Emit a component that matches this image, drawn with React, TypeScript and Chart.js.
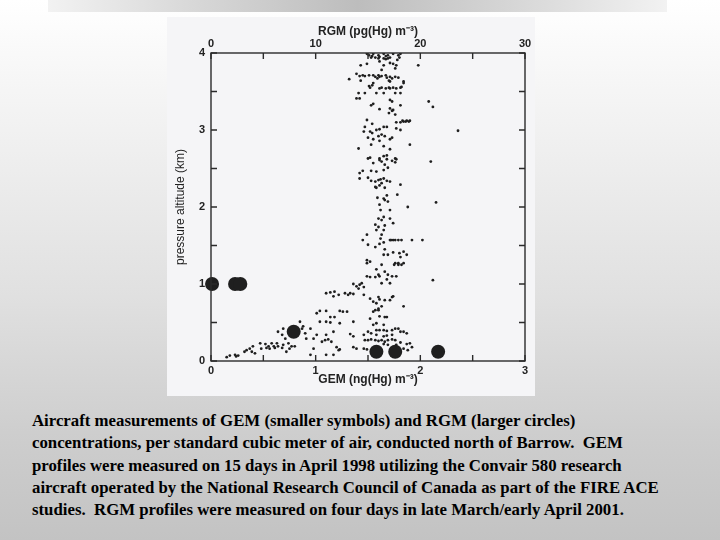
import React, { useEffect, useRef } from "react";
import { Chart, registerables } from "chart.js";
Chart.register(...registerables);

// GEM (ng(Hg) m^-3) vs pressure altitude (km), small symbols
const gemUpperColumn: [number, number][] = [
  [1.49,3.99],[1.51,3.97],[1.54,3.96],[1.55,3.99],[1.57,3.94],[1.60,3.97],[1.61,3.95],[1.65,3.99],[1.67,3.96],[1.69,3.97],[1.71,3.94],[1.74,3.99],[1.79,3.97],[1.80,3.94],[1.67,3.92],[1.69,3.93],[1.65,3.93],[1.60,3.93],[1.53,3.94],[1.78,3.91],[1.81,3.99],[1.98,3.84],
  [1.43,3.84],[1.49,3.86],[1.65,3.84],[1.71,3.87],[1.74,3.86],[1.77,3.84],[1.61,3.89],[1.63,3.78],[1.76,3.80],
  [1.39,3.73],[1.42,3.70],[1.45,3.71],[1.47,3.70],[1.51,3.71],[1.55,3.71],[1.57,3.69],[1.60,3.71],[1.61,3.69],[1.63,3.70],[1.67,3.71],[1.68,3.68],[1.71,3.69],[1.73,3.67],[1.76,3.69],[1.79,3.68],[1.32,3.66],[1.43,3.64],[1.70,3.64],[1.71,3.63],[1.84,3.63],[1.59,3.67],
  [1.51,3.57],[1.52,3.55],[1.54,3.58],[1.55,3.61],[1.61,3.54],[1.63,3.55],[1.67,3.54],[1.70,3.55],[1.71,3.54],[1.74,3.55],[1.77,3.54],[1.81,3.55],[1.82,3.56],[1.84,3.61],
  [1.41,3.48],[1.47,3.48],[1.58,3.48],[1.65,3.48],[1.76,3.48],[1.81,3.48],[1.42,3.41],[1.39,3.41],
  [1.71,3.39],[1.73,3.37],[1.55,3.34],[1.53,3.32],[1.81,3.32],[1.71,3.28],[1.73,3.25],[1.70,3.22],[1.74,3.26],[1.76,3.20],[1.61,3.27],[1.49,3.13],[1.54,3.08],[2.08,3.37],[2.12,3.30],
  [1.83,3.12],[1.84,3.11],[1.86,3.11],[1.87,3.12],[1.89,3.11],[1.90,3.12],[1.81,3.10],[1.77,3.10],[1.68,3.04],[1.65,3.04],[1.77,3.02],[1.81,3.00],[1.47,3.04],[1.46,2.98],[1.52,2.98],[1.54,2.96],[1.58,3.00],[1.61,3.01],[1.63,2.94],[1.66,2.92],[1.60,2.92],[1.50,2.90],[1.73,2.90],[1.71,2.88],[1.55,2.88],[1.61,2.86],[1.53,2.81],[1.65,2.79],[1.71,2.75],[1.41,2.76],[1.90,2.81],[1.65,2.66],[1.68,2.67],[1.76,2.63],[1.61,2.63],[1.50,2.63],[2.36,2.99],
];

const gemMiddleColumn: [number, number][] = [
  [1.52,2.64],[1.61,2.61],[1.63,2.59],[1.68,2.62],[1.73,2.60],[1.76,2.58],[1.77,2.62],[2.10,2.59],[1.55,2.57],[1.66,2.55],
  [1.45,2.47],[1.42,2.44],[1.53,2.47],[1.58,2.46],[1.65,2.48],[1.69,2.51],[1.50,2.38],[1.42,2.37],[1.53,2.34],[1.57,2.33],[1.60,2.35],[1.62,2.36],[1.65,2.37],[1.68,2.34],[1.71,2.33],[1.63,2.31],[1.57,2.26],[1.58,2.25],[1.61,2.28],[1.66,2.25],[1.81,2.29],
  [1.59,2.12],[1.65,2.11],[1.66,2.09],[1.69,2.07],[1.68,2.15],[1.78,2.16],[1.61,2.03],[1.62,1.96],[1.88,2.00],[2.15,2.06],[1.71,1.96],[1.65,1.87],[1.60,1.85],[1.63,1.83],[1.71,1.85],[1.74,1.79],[1.57,1.77],[1.60,1.74],[1.66,1.76],[1.58,1.70],[1.65,1.70],[1.63,1.64],[1.62,1.59],[1.49,1.64],[1.45,1.57],
  [1.71,1.57],[1.72,1.57],[1.74,1.57],[1.76,1.57],[1.79,1.57],[1.82,1.57],[1.92,1.57],[2.02,1.57],[1.61,1.52],[1.65,1.54],[1.57,1.48],[1.50,1.51],[1.66,1.45],[1.65,1.38],[1.74,1.41],[1.80,1.40],[1.84,1.42],[1.87,1.38],[1.69,1.38],[1.81,1.35],[1.49,1.31],[1.52,1.29],[1.76,1.27],[1.79,1.27],[1.84,1.27],[1.63,1.25],
];

const gemLowerColumn: [number, number][] = [
  [1.49,1.27],[1.75,1.25],[1.79,1.25],[1.82,1.25],[1.58,1.19],[1.61,1.10],[1.66,1.16],[1.69,1.12],[1.73,1.10],[1.77,1.10],[1.57,1.09],[1.60,1.12],[1.49,1.10],[1.52,1.09],[1.68,1.06],[1.63,1.01],[1.71,1.01],[1.36,1.00],[1.39,0.97],[1.42,0.99],[1.44,1.01],[1.46,0.96],[1.41,0.94],[2.12,1.05],
  [1.10,0.88],[1.14,0.89],[1.18,0.90],[1.17,0.84],[1.22,0.86],[1.28,0.88],[1.33,0.88],[1.31,0.86],[1.36,0.87],[1.46,0.86],[1.52,0.81],[1.60,0.83],[1.61,0.80],[1.66,0.79],[1.71,0.79],[1.73,0.83],[1.74,0.84],[1.55,0.77],[1.58,0.75],[1.63,0.71],[1.60,0.68],[1.84,0.71],
  [1.04,0.65],[1.10,0.65],[1.23,0.65],[1.26,0.64],[1.30,0.64],[1.55,0.64],[1.57,0.66],[1.60,0.66],[1.14,0.57],[1.18,0.57],[1.52,0.55],[1.61,0.58],[1.66,0.57],[1.68,0.57],[1.58,0.49],[1.65,0.47],[1.04,0.51],[1.10,0.51],[1.14,0.50],[1.23,0.49],[1.36,0.51],[1.55,0.47],
  [1.58,0.40],[1.61,0.40],[1.65,0.40],[1.68,0.39],[1.73,0.40],[1.76,0.42],[1.79,0.42],[1.81,0.38],[1.84,0.38],[1.87,0.36],[1.50,0.38],[1.53,0.36],[1.17,0.38],[1.10,0.34],[1.33,0.35],[1.36,0.32],[1.46,0.34],[1.58,0.34],[1.65,0.32],[1.68,0.33],[1.73,0.34],
  [1.06,0.25],[1.09,0.27],[1.12,0.28],[1.15,0.25],[1.47,0.27],[1.50,0.27],[1.53,0.28],[1.57,0.27],[1.60,0.26],[1.63,0.27],[1.66,0.25],[1.69,0.27],[1.73,0.28],[1.76,0.27],[1.81,0.24],[1.87,0.22],[1.90,0.23],
  [1.20,0.18],[1.23,0.15],[1.36,0.18],[1.39,0.16],[1.46,0.16],[1.49,0.15],[1.65,0.22],[1.69,0.21],[1.77,0.21],[1.84,0.16],[1.88,0.14],[1.92,0.18],[1.10,0.08],[1.17,0.08],[1.22,0.14],
];

const gemLowerLeft: [number, number][] = [
  [0.15,0.05],[0.18,0.07],[0.23,0.08],[0.24,0.06],[0.26,0.07],[0.32,0.12],[0.34,0.14],[0.37,0.16],[0.40,0.19],[0.39,0.12],[0.42,0.10],[0.47,0.23],[0.48,0.16],[0.52,0.22],[0.53,0.17],[0.55,0.19],[0.56,0.16],[0.58,0.23],[0.60,0.19],[0.61,0.17],[0.63,0.23],[0.64,0.19],[0.68,0.17],[0.69,0.21],[0.72,0.12],[0.74,0.23],[0.75,0.16],[0.77,0.19],[0.80,0.19],
  [0.64,0.38],[0.68,0.34],[0.71,0.29],[0.69,0.42],[0.85,0.51],[0.87,0.42],[0.88,0.45],[0.90,0.36],[0.91,0.29],[0.95,0.42],[0.95,0.08],[0.98,0.16],[1.01,0.62],[0.98,0.29],[1.01,0.34],
];

// RGM (pg(Hg) m^-3) vs pressure altitude (km), large circles
const rgmValues = [0.1, 2.3, 2.8, 7.9, 15.8, 17.6, 21.7];
const rgmAltitudes = [1.0, 1.0, 1.0, 0.38, 0.12, 0.12, 0.12];

const gemAxisTitle = "GEM (ng(Hg) m\u207B\u00B3)";
const rgmAxisTitle = "RGM (pg(Hg) m\u207B\u00B3)";
const altitudeAxisTitle = "pressure altitude (km)";

const captionLines = [
  "Aircraft measurements of GEM (smaller symbols) and RGM (larger circles)",
  "concentrations, per standard cubic meter of air, conducted north of Barrow.  GEM",
  "profiles were measured on 15 days in April 1998 utilizing the Convair 580 research",
  "aircraft operated by the National Research Council of Canada as part of the FIRE ACE",
  "studies.  RGM profiles were measured on four days in late March/early April 2001.",
];

const SANS = "'Liberation Sans', Arial, sans-serif";

const boxPlugin = {
  id: "boxTicks",
  afterDatasetsDraw(chart: any) {
    const { ctx, chartArea: a, scales } = chart;
    ctx.save();
    ctx.strokeStyle = "#2b2b2b";
    ctx.lineWidth = 1.4;
    ctx.strokeRect(a.left, a.top, a.right - a.left, a.bottom - a.top);
    const L = 6;
    ctx.beginPath();
    scales.x.ticks.forEach((t: any) => {
      const p = scales.x.getPixelForValue(t.value);
      ctx.moveTo(p, a.bottom);
      ctx.lineTo(p, a.bottom - L);
    });
    scales.x2.ticks.forEach((t: any) => {
      const p = scales.x2.getPixelForValue(t.value);
      ctx.moveTo(p, a.top);
      ctx.lineTo(p, a.top + L);
    });
    scales.y.ticks.forEach((t: any) => {
      const p = scales.y.getPixelForValue(t.value);
      ctx.moveTo(a.left, p);
      ctx.lineTo(a.left + L, p);
      ctx.moveTo(a.right, p);
      ctx.lineTo(a.right - L, p);
    });
    ctx.stroke();
    ctx.restore();
  },
};

function ChartCanvas() {
  const ref = useRef<HTMLCanvasElement | null>(null);
  useEffect(() => {
    if (!ref.current) return;
    const toPts = (arr: [number, number][]) => arr.map(([x, y]) => ({ x, y }));
    const gemPts = [
      ...toPts(gemUpperColumn),
      ...toPts(gemMiddleColumn),
      ...toPts(gemLowerColumn),
      ...toPts(gemLowerLeft),
    ];
    const rgmPts = rgmValues.map((v, i) => ({ x: v, y: rgmAltitudes[i] }));
    const tickFont = { family: SANS, size: 11, weight: "bold" as const };
    const intLabel = (v: any) => (Math.abs(v - Math.round(v)) < 1e-9 ? String(Math.round(v)) : "");
    const noGrid = { display: false, drawTicks: false, tickLength: 0 };
    const chart = new Chart(ref.current, {
      type: "scatter",
      data: {
        datasets: [
          {
            label: "GEM",
            data: gemPts,
            xAxisID: "x",
            yAxisID: "y",
            pointRadius: 1.4,
            pointBackgroundColor: "#1e1e1e",
            pointBorderWidth: 0,
          },
          {
            label: "RGM",
            data: rgmPts,
            xAxisID: "x2",
            yAxisID: "y",
            clip: false,
            pointRadius: 7,
            pointBackgroundColor: "#1f1f1f",
            pointBorderColor: "#1f1f1f",
            pointBorderWidth: 0,
          },
        ],
      },
      options: {
        animation: false,
        responsive: false,
        devicePixelRatio: 1,
        layout: { padding: { left: 0, right: 10, top: 0, bottom: 0 } },
        plugins: { legend: { display: false }, tooltip: { enabled: false } },
        scales: {
          x: {
            type: "linear",
            position: "bottom",
            min: 0,
            max: 3,
            grid: noGrid,
            border: { display: false },
            ticks: { stepSize: 0.5, autoSkip: false, maxRotation: 0, padding: 3, color: "#222", font: tickFont, callback: intLabel },
            title: { display: true, text: gemAxisTitle, color: "#222", font: { family: SANS, size: 12, weight: "bold" }, padding: { top: 0, bottom: 9 } },
            afterFit: (s: any) => { s.height = 35; },
          },
          x2: {
            type: "linear",
            position: "top",
            min: 0,
            max: 30,
            grid: noGrid,
            border: { display: false },
            ticks: { stepSize: 5, autoSkip: false, maxRotation: 0, padding: 2, color: "#222", font: tickFont, callback: (v: any) => (v % 10 === 0 ? String(v) : "") },
            title: { display: true, text: rgmAxisTitle, color: "#222", font: { family: SANS, size: 12, weight: "bold" }, padding: { top: 7, bottom: 0 } },
            afterFit: (s: any) => { s.height = 36; },
          },
          y: {
            type: "linear",
            position: "left",
            min: 0,
            max: 4,
            grid: noGrid,
            border: { display: false },
            ticks: { stepSize: 0.5, autoSkip: false, padding: 6, color: "#222", font: tickFont, callback: intLabel },
            title: { display: true, text: altitudeAxisTitle, color: "#222", font: { family: SANS, size: 12, weight: "normal" }, padding: { top: 6, bottom: 0 } },
            afterFit: (s: any) => { s.width = 44; },
          },
        },
      },
      plugins: [boxPlugin],
    });
    return () => chart.destroy();
  }, []);
  return <canvas ref={ref} width={368} height={379} style={{ display: "block", width: 368, height: 379 }} />;
}

export default function App() {
  return (
    <div
      style={{
        position: "fixed",
        left: 0,
        top: 0,
        width: 720,
        height: 540,
        overflow: "hidden",
        background: "linear-gradient(to bottom, #ffffff 0%, #f6f6f6 15%, #e0e0e0 55%, #cecece 80%, #c3c3c3 100%)",
      }}
    >
      <div
        style={{
          position: "absolute",
          left: 48,
          top: 0,
          width: 619,
          height: 12,
          background: "linear-gradient(to right, #f2f2f2 0%, #d6d6d6 25%, #bdbdbd 50%, #d6d6d6 75%, #f2f2f2 100%)",
        }}
      />
      <div style={{ position: "absolute", left: 167, top: 17, width: 368, height: 379, background: "#f5f5f7" }}>
        <ChartCanvas />
      </div>
      <div
        style={{
          position: "absolute",
          left: 32,
          top: 410,
          fontFamily: "'Liberation Serif', 'Times New Roman', serif",
          fontWeight: "bold",
          fontSize: 16.8,
          lineHeight: "22.3px",
          color: "#000",
        }}
      >
        {captionLines.map((l, i) => (
          <div key={i} style={{ whiteSpace: "pre" }}>{l}</div>
        ))}
      </div>
    </div>
  );
}
